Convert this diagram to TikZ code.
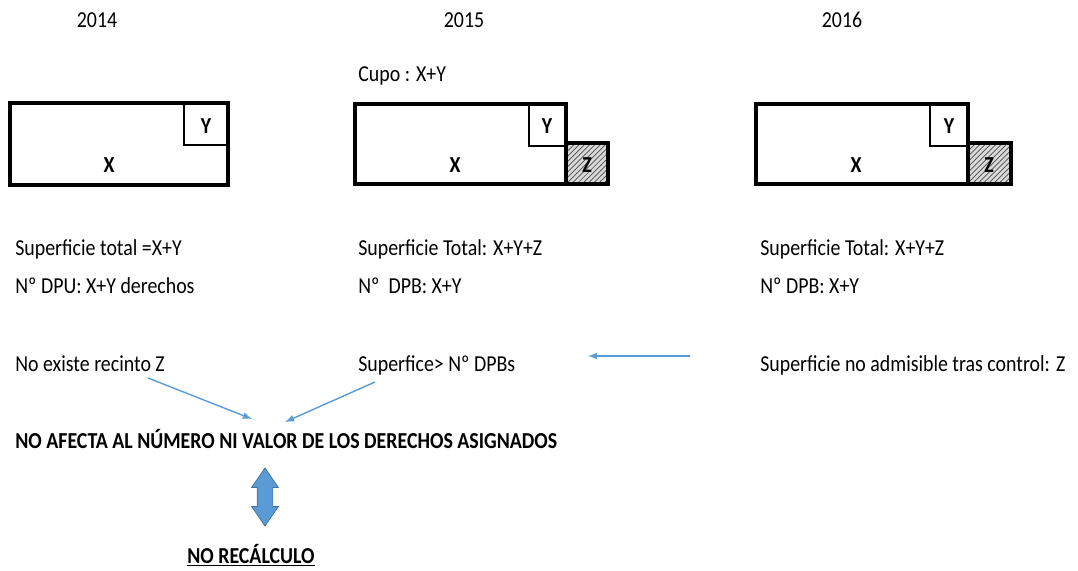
\documentclass[tikz,border=0pt]{standalone}
\usepackage{fontspec}
\setmainfont{Carlito}[FakeStretch=0.87]
\usetikzlibrary{arrows,patterns,shapes.arrows}
\definecolor{officeblue}{RGB}{91,155,213}
\definecolor{officeedge}{RGB}{65,113,156}

\tikzset{
  txt/.style={anchor=base west,inner sep=0,font=\fontsize{13}{15}\selectfont},
  yr/.style={anchor=base,inner sep=0,font=\fontsize{13}{15}\selectfont},
  lbl/.style={anchor=base,inner sep=0,font=\bfseries\fontsize{13}{15}\selectfont},
  outer/.style={line width=2pt},
  inner/.style={line width=0.9pt},
  hatched/.style={line width=2pt,preaction={fill=gray!30},pattern=north east lines,pattern color=gray!60!black},
  link/.style={->,officeblue,line width=0.8pt}
}

\begin{document}
\begin{tikzpicture}[>=latex,x=0.02cm,y=-0.02cm]
\useasboundingbox (0,0) rectangle (1078,571);

% YEARS

\node[yr] (y2014) at (97,28) {2014};
\node[yr] (y2015) at (464,28) {2015};
\node[yr] (y2016) at (842,28) {2016};
\node[txt] (cupo) at (358,82) {Cupo : X+Y};

% PLOTS

% 2014.
\draw[outer] (10,103) rectangle (228,185);
\draw[inner] (184,103) -- (184,145) -- (228,145);
\node[lbl] (x2014) at (109,173) {X};
\node[lbl] (yy2014) at (206,133) {Y};

% 2015.
\draw[hatched] (566,143) rectangle (608,184);
\draw[outer] (355,104) rectangle (566,184);
\draw[inner] (529,104) -- (529,146) -- (566,146);
\node[lbl] (x2015) at (455,173) {X};
\node[lbl] (yy2015) at (547,133) {Y};
\node[lbl] (z2015) at (587,173) {Z};

% 2016.
\draw[hatched] (968,143) rectangle (1011,184);
\draw[outer] (756,104) rectangle (968,184);
\draw[inner] (930,104) -- (930,146) -- (968,146);
\node[lbl] (x2016) at (856,173) {X};
\node[lbl] (yy2016) at (949,133) {Y};
\node[lbl] (z2016) at (989,173) {Z};

% TEXTS

\node[txt] (sup2014) at (15,255) {Superficie total =X+Y};
\node[txt] (dpu2014) at (15,293) {Nº DPU: X+Y derechos};
\node[txt] (sup2015) at (358,255) {Superficie Total: X+Y+Z};
\node[txt] (dpb2015) at (358,293) {Nº~ DPB: X+Y};
\node[txt] (sup2016) at (760,255) {Superficie Total: X+Y+Z};
\node[txt] (dpb2016) at (760,293) {Nº DPB: X+Y};

\node[txt] (norecinto) at (15,371) {No existe recinto Z};
\node[txt] (superfice) at (358,371) {Superfice> Nº DPBs};
\node[txt] (noadmis) at (760,371) {Superficie no admisible tras control: Z};

\node[txt,font=\bfseries\fontsize{13}{15}\selectfont] (noafecta) at (15,448)
  {NO AFECTA AL NÚMERO NI VALOR DE LOS DERECHOS ASIGNADOS};
\node[yr,font=\bfseries\fontsize{13}{15}\selectfont] (norecalc) at (251,563) {\underline{NO RECÁLCULO}};

% ARROWS

\coordinate (a1) at (148,378);
\coordinate (a2) at (252,419);
\coordinate (b1) at (375,382);
\coordinate (b2) at (285,422);
\coordinate (c1) at (690,356);
\coordinate (c2) at (588,356);
\draw[link] (a1) -- (a2);
\draw[link] (b1) -- (b2);
\draw[link] (c1) -- (c2);

\node[double arrow,rotate=90,inner xsep=0,inner ysep=0.15cm,fill=officeblue,draw=officeedge,
  minimum height=1.16cm,minimum width=0.52cm,double arrow head extend=0.11cm,
  double arrow tip angle=69] (recalc) at (265,497) {};

\end{tikzpicture}
\end{document}
